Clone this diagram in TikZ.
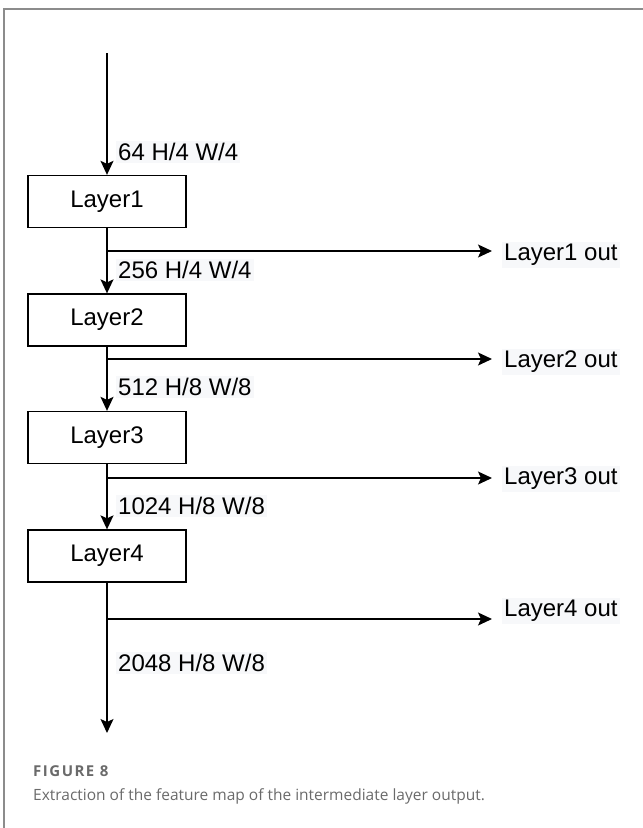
\documentclass[tikz,border=0pt]{standalone}
\usepackage{fontspec}
\setmainfont{Liberation Sans}
\newfontfamily\capfont{Open Sans}
\newfontfamily\tagfont[LetterSpace=10]{Open Sans}
\usetikzlibrary{arrows.meta, positioning}
\definecolor{framecol}{HTML}{8C8C8C}
\definecolor{capcol}{HTML}{6A6A6A}
\definecolor{tagbg}{HTML}{F7F8FA}

\begin{document}
\begin{tikzpicture}[x=1pt, y=-1pt,
    every node/.style={font=\fontsize{24}{28}\selectfont},
    layerbox/.style={draw, line width=1.3pt, minimum width=158pt, minimum height=52pt, inner sep=0pt},
    flow/.style={line width=1.4pt, -{Stealth[length=14pt, width=13pt, inset=3pt]}},
    dim/.style={anchor=west, fill=tagbg, inner sep=2pt},
    outlab/.style={anchor=west, fill=tagbg, inner sep=2pt},
    figtag/.style={anchor=west, inner sep=0pt, text=capcol, font=\tagfont\bfseries\fontsize{15}{18}\selectfont},
    figcap/.style={anchor=west, inner sep=0pt, text=capcol, font=\capfont\fontsize{15.5}{19}\selectfont},
]

\useasboundingbox (0, 0) rectangle (643, 828);

% page frame (left and top only)
\draw[framecol, line width=1.2pt] (4, 828) -- (4, 9) -- (643, 9);

% ends of the spine
\coordinate (in) at (107, 53);
\coordinate (out) at (107, 733);

% the four layers
\foreach \i/\y in {1/201.5, 2/320, 3/437.5, 4/556}{
    \node[layerbox] (L\i) at (107, \y) {Layer\i};
}

% arrows along the spine
\draw[flow] (in) -- (L1.north);
\foreach \i/\j in {1/2, 2/3, 3/4}{
    \draw[flow] (L\i.south) -- (L\j.north);
}
\draw[flow] (L4.south) -- (out);

% feature sizes
\node[dim] (d0) at (116, 152) {64 H/4 W/4};
\node[dim] (d1) at (116, 270) {256 H/4 W/4};
\node[dim] (d2) at (116, 387) {512 H/8 W/8};
\node[dim] (d3) at (116, 506) {1024 H/8 W/8};
\node[dim] (d4) at (116, 663) {2048 H/8 W/8};

% taps to the side
\foreach \i/\yb/\yt in {1/251/255, 2/359/362, 3/478/479, 4/619/611}{
    \coordinate (b\i) at (107, \yb);
    \coordinate (o\i) at (492, \yb);
    \draw[flow] (b\i) -- (o\i);
    \node[outlab] (t\i) at (502, \yt) {Layer\i{} out};
}

% caption
\node[figtag] (tag) at (33, 771) {FIGURE 8};
\node[figcap] (cap) at (33, 796) {Extraction of the feature map of the intermediate layer output.};

\end{tikzpicture}
\end{document}
